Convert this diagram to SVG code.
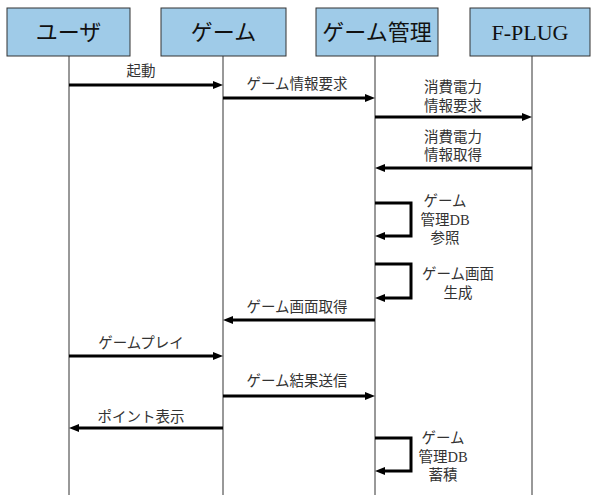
<svg xmlns="http://www.w3.org/2000/svg" width="591" height="495" viewBox="0 0 591 495">
<defs>
<marker id="ah" viewBox="0 0 10 8" markerWidth="10" markerHeight="8" refX="4" refY="4" orient="auto" markerUnits="userSpaceOnUse">
<path d="M0,0 L10,4 L0,8 z" fill="#000"/>
</marker>
<style>
.box{fill:#9fcbe8;stroke:#333;stroke-width:1}
.title{font-family:"Liberation Serif","Noto Sans CJK JP",serif;font-size:22px;fill:#111;text-anchor:middle}
.life{stroke:#333;stroke-width:1;fill:none}
.msg{stroke:#000;stroke-width:3;fill:none;marker-end:url(#ah)}
.lbl{font-family:"Liberation Serif","Noto Sans CJK JP",sans-serif;font-size:14.5px;fill:#333;text-anchor:middle}
</style>
</defs>
<rect width="591" height="495" fill="#fff"/>
<g id="lifelines">
<line class="life" x1="69" y1="56" x2="69" y2="495"/>
<line class="life" x1="223" y1="56" x2="223" y2="495"/>
<line class="life" x1="375" y1="56" x2="375" y2="495"/>
<line class="life" x1="532" y1="56" x2="532" y2="495"/>
</g>
<g id="user"><rect class="box" x="7" y="8" width="123" height="48"/><text class="title" x="68.5" y="40">ユーザ</text></g>
<g id="game"><rect class="box" x="161" y="8" width="125" height="48"/><text class="title" x="223.5" y="40">ゲーム</text></g>
<g id="gamemgr"><rect class="box" x="316" y="8" width="122" height="48"/><text class="title" x="377" y="40">ゲーム管理</text></g>
<g id="fplug"><rect class="box" x="470" y="8" width="120" height="48"/><text class="title" x="530" y="40">F-PLUG</text></g>
<g id="connectors">
<path class="msg" d="M69,85 H217"/>
<path class="msg" d="M223,98 H369"/>
<path class="msg" d="M375,117 H526"/>
<path class="msg" d="M532,168 H381"/>
<path class="msg" d="M375,203 H411 V236 H381"/>
<path class="msg" d="M375,264 H411 V298 H381"/>
<path class="msg" d="M375,320 H229"/>
<path class="msg" d="M69,356 H217"/>
<path class="msg" d="M223,396 H369"/>
<path class="msg" d="M223,428 H75"/>
<path class="msg" d="M375,438 H411 V471 H381"/>
</g>
<g id="labels">
<text class="lbl" x="141" y="76">起動</text>
<text class="lbl" x="297" y="89">ゲーム情報要求</text>
<text class="lbl" x="453" y="92">消費電力</text>
<text class="lbl" x="453" y="111">情報要求</text>
<text class="lbl" x="453" y="142">消費電力</text>
<text class="lbl" x="453" y="160">情報取得</text>
<text class="lbl" x="445" y="206">ゲーム</text>
<text class="lbl" x="445" y="225">管理DB</text>
<text class="lbl" x="445" y="243">参照</text>
<text class="lbl" x="458" y="279">ゲーム画面</text>
<text class="lbl" x="458" y="298">生成</text>
<text class="lbl" x="297" y="312">ゲーム画面取得</text>
<text class="lbl" x="141" y="348">ゲームプレイ</text>
<text class="lbl" x="297" y="386">ゲーム結果送信</text>
<text class="lbl" x="141" y="422">ポイント表示</text>
<text class="lbl" x="443" y="443">ゲーム</text>
<text class="lbl" x="443" y="462">管理DB</text>
<text class="lbl" x="443" y="480">蓄積</text>
</g>
</svg>
